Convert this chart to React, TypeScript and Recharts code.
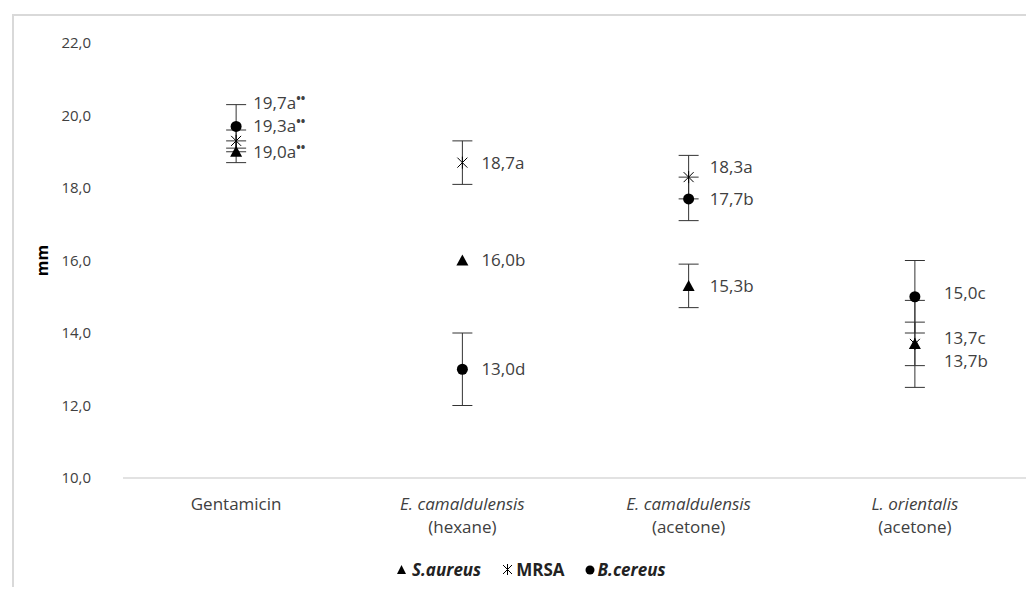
import React from "react";
import {
  ComposedChart,
  Scatter,
  XAxis,
  YAxis,
  ErrorBar,
  Legend,
} from "recharts";

// categories (two-line tick labels)
const categoryLine1 = ["Gentamicin", "E. camaldulensis", "E. camaldulensis", "L. orientalis"];
const categoryLine2 = ["", "(hexane)", "(acetone)", "(acetone)"];
const categoryItalic = [false, true, true, true];

const yTicks = [10, 12, 14, 16, 18, 20, 22];

// inhibition zone (mm) and SD
const sAureus = [19.0, 16.0, 15.3, 13.7];
const sAureusErr = [0.3, 0, 0.6, 1.2];
const sAureusLetters = ["a", "b", "b", "b"];

const mrsa = [19.3, 18.7, 18.3, 13.7];
const mrsaErr = [0.3, 0.6, 0.6, 0.6];
const mrsaLetters = ["a", "a", "a", "c"];

const bCereus = [19.7, 13.0, 17.7, 15.0];
const bCereusErr = [0.6, 1.0, 0.6, 1.0];
const bCereusLetters = ["a", "d", "b", "c"];

const starred = [true, false, false, false];

// label placement next to the markers (px)
const labelDx = [17, 19, 21, 29];
const labelDy: Record<string, number[]> = {
  sAureus: [0, 0, 0, 17],
  mrsa: [-15, 0, -10, -6],
  bCereus: [-23, 0, 0, -4],
};

const FONT = "'Open Sans', 'DejaVu Sans', sans-serif";
const TEXT = "#404040";

const build = (vals: number[], errs: number[], letters: string[]) =>
  vals.map((v, i) => ({
    x: i,
    y: v,
    err: errs[i],
    label: v.toFixed(1).replace(".", ",") + letters[i],
    star: starred[i],
  }));

const sAureusData = build(sAureus, sAureusErr, sAureusLetters);
const mrsaData = build(mrsa, mrsaErr, mrsaLetters);
const bCereusData = build(bCereus, bCereusErr, bCereusLetters);

const Label = ({ cx, cy, p, dy }: any) => (
  <text
    x={cx + labelDx[p.x]}
    y={cy + dy}
    dy="0.35em"
    fontFamily={FONT}
    fontSize={17}
    fill={TEXT}
  >
    {p.label}
    {p.star && (
      <tspan fontSize={12} fontWeight="bold" dy="-0.5em">
        {"••"}
      </tspan>
    )}
  </text>
);

const makeShape = (kind: string) => (props: any) => {
  const { cx, cy, payload } = props;
  let mark: React.ReactNode = null;
  if (kind === "sAureus") {
    mark = (
      <polygon
        points={`${cx},${cy - 6} ${cx - 6},${cy + 5} ${cx + 6},${cy + 5}`}
        fill="#000"
      />
    );
  } else if (kind === "mrsa") {
    mark = (
      <g stroke="#000" strokeWidth={1}>
        <line x1={cx - 5} y1={cy - 5} x2={cx + 5} y2={cy + 5} />
        <line x1={cx - 5} y1={cy + 5} x2={cx + 5} y2={cy - 5} />
        <line x1={cx} y1={cy - 6} x2={cx} y2={cy + 6} />
      </g>
    );
  } else {
    mark = <circle cx={cx} cy={cy} r={5.5} fill="#000" />;
  }
  return (
    <g>
      {mark}
      <Label cx={cx} cy={cy} p={payload} dy={labelDy[kind][payload.x]} />
    </g>
  );
};

const XTick = ({ x, y, payload }: any) => {
  const i = payload.value;
  return (
    <g>
      <text
        x={x}
        y={y + 32}
        textAnchor="middle"
        fontFamily={FONT}
        fontSize={17}
        fontStyle={categoryItalic[i] ? "italic" : "normal"}
        fill={TEXT}
      >
        {categoryLine1[i]}
      </text>
      <text x={x} y={y + 55} textAnchor="middle" fontFamily={FONT} fontSize={17} fill={TEXT}>
        {categoryLine2[i]}
      </text>
    </g>
  );
};

const LegendContent = () => {
  const item = { display: "flex", alignItems: "center", marginRight: 20 };
  const txt = { fontFamily: FONT, fontSize: 17, fontWeight: 700, color: "#222" };
  return (
    <div style={{ display: "flex", alignItems: "center" }}>
      <div style={item}>
        <svg width={11} height={11} style={{ marginRight: 5 }}>
          <polygon points="5.5,1 1,10 10,10" fill="#000" />
        </svg>
        <span style={{ ...txt, fontStyle: "italic" }}>S.aureus</span>
      </div>
      <div style={item}>
        <svg width={13} height={13} style={{ marginRight: 2 }}>
          <g stroke="#000" strokeWidth={1}>
            <line x1={2} y1={2} x2={11} y2={11} />
            <line x1={2} y1={11} x2={11} y2={2} />
            <line x1={6.5} y1={1} x2={6.5} y2={12} />
          </g>
        </svg>
        <span style={txt}>MRSA</span>
      </div>
      <div style={item}>
        <svg width={10} height={10} style={{ marginRight: 3 }}>
          <circle cx={5} cy={5} r={4.5} fill="#000" />
        </svg>
        <span style={{ ...txt, fontStyle: "italic" }}>B.cereus</span>
      </div>
    </div>
  );
};

const App: React.FC = () => {
  return (
    <div
      style={{
        position: "relative",
        margin: -8,
        width: 1034,
        height: 595,
        background: "#fff",
        overflow: "hidden",
      }}
    >
      <div
        style={{
          position: "absolute",
          left: 12,
          top: 14,
          width: 1100,
          height: 700,
          borderTop: "2px solid #d9d9d9",
          borderLeft: "2px solid #d9d9d9",
        }}
      />
      <ComposedChart
        width={1034}
        height={595}
        margin={{ top: 43, right: 6, bottom: 87, left: 0 }}
        style={{ position: "absolute", left: 0, top: 0 }}
      >
        <XAxis
          type="number"
          dataKey="x"
          domain={[-0.5, 3.5]}
          ticks={[0, 1, 2, 3]}
          interval={0}
          height={30}
          tickLine={false}
          tickSize={0}
          tickMargin={0}
          axisLine={{ stroke: "#d9d9d9", strokeWidth: 1.5 }}
          tick={<XTick />}
        />
        <YAxis
          type="number"
          dataKey="y"
          width={123}
          domain={[10, 22]}
          ticks={yTicks}
          interval={0}
          axisLine={false}
          tickLine={false}
          tickSize={0}
          tickMargin={32}
          tickFormatter={(v: number) => v.toFixed(1).replace(".", ",")}
          tick={{ fontFamily: FONT, fontSize: 15, fill: TEXT }}
          label={{
            content: ({ viewBox }: any) => (
              <text
                x={42}
                y={viewBox.y + viewBox.height / 2}
                transform={`rotate(-90, 42, ${viewBox.y + viewBox.height / 2})`}
                textAnchor="middle"
                dy="0.35em"
                fontFamily={FONT}
                fontSize={16}
                fontWeight="bold"
                fill="#000"
              >
                mm
              </text>
            ),
          }}
        />
        <Legend
          verticalAlign="middle"
          align="center"
          layout="horizontal"
          content={<LegendContent />}
          wrapperStyle={{ top: 558, left: 396, width: 320, height: 26 }}
        />
        <Scatter
          name="B.cereus"
          data={bCereusData}
          dataKey="y"
          shape={makeShape("bCereus")}
          isAnimationActive={false}
        >
          <ErrorBar dataKey="err" direction="y" width={10} stroke="#333" strokeWidth={1} />
        </Scatter>
        <Scatter
          name="MRSA"
          data={mrsaData}
          dataKey="y"
          shape={makeShape("mrsa")}
          isAnimationActive={false}
        >
          <ErrorBar dataKey="err" direction="y" width={10} stroke="#333" strokeWidth={1} />
        </Scatter>
        <Scatter
          name="S.aureus"
          data={sAureusData}
          dataKey="y"
          shape={makeShape("sAureus")}
          isAnimationActive={false}
        >
          <ErrorBar dataKey="err" direction="y" width={10} stroke="#333" strokeWidth={1} />
        </Scatter>
      </ComposedChart>
    </div>
  );
};

export default App;
